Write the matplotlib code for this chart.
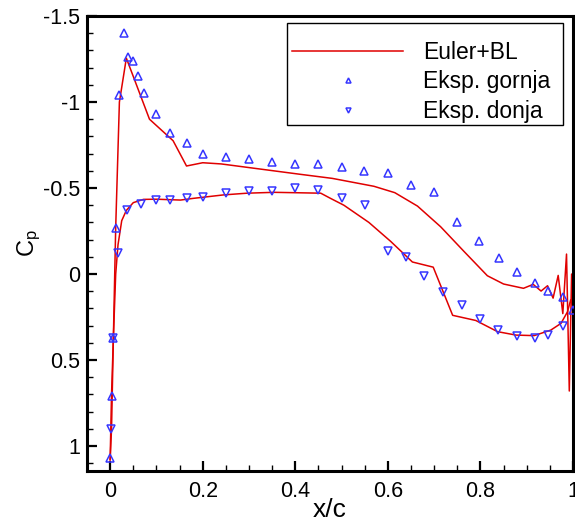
import matplotlib
matplotlib.use("Agg")
import matplotlib.pyplot as plt
from matplotlib.ticker import MultipleLocator, FuncFormatter
from matplotlib.patches import Rectangle

plt.rcParams['font.family'] = ['Liberation Sans', 'DejaVu Sans']
plt.rcParams['mathtext.fontset'] = 'custom'
plt.rcParams['mathtext.rm'] = 'Liberation Sans'
plt.rcParams['mathtext.it'] = 'Liberation Sans'
plt.rcParams['axes.unicode_minus'] = False

# Euler+BL computation, upper surface
upper_x = [0.0, 0.003, 0.007, 0.012, 0.02, 0.035, 0.085, 0.136, 0.165, 0.20, 0.24,
           0.41, 0.48, 0.57, 0.615, 0.664, 0.714, 0.765, 0.815, 0.85, 0.893, 0.914,
           0.931, 0.945, 0.957, 0.968, 0.978, 0.986, 0.992, 0.997, 1.0]
upper_cp = [1.08, 0.70, 0.37, -0.27, -1.0, -1.255, -0.90, -0.775, -0.628, -0.647, -0.64,
            -0.58, -0.556, -0.51, -0.473, -0.395, -0.275, -0.13, 0.01, 0.058, 0.083, 0.06,
            0.099, 0.068, 0.14, 0.008, 0.23, -0.116, 0.68, 0.0, 0.2]

# Euler+BL computation, lower surface
lower_x = [0.0, 0.003, 0.007, 0.012, 0.017, 0.025, 0.035, 0.05, 0.072, 0.1, 0.152,
           0.18, 0.245, 0.296, 0.354, 0.455, 0.476, 0.505, 0.559, 0.606, 0.653, 0.698,
           0.74, 0.79, 0.837, 0.877, 0.916, 0.952, 0.974, 0.988, 0.995, 1.0]
lower_cp = [1.08, 0.90, 0.37, 0.0, -0.17, -0.31, -0.37, -0.415, -0.434, -0.435, -0.43,
            -0.44, -0.46, -0.47, -0.475, -0.47, -0.44, -0.40, -0.30, -0.19, -0.07, -0.04,
            0.24, 0.27, 0.335, 0.355, 0.358, 0.326, 0.287, 0.22, 0.15, 0.2]

# Experiment, upper surface (gornja)
exp_up_x = [0.0, 0.003, 0.007, 0.012, 0.020, 0.030, 0.038, 0.050, 0.060, 0.074, 0.10,
            0.13, 0.165, 0.20, 0.25, 0.30, 0.35, 0.40, 0.449, 0.50, 0.548, 0.60, 0.65,
            0.70, 0.749, 0.797, 0.84, 0.88, 0.918, 0.947, 0.979, 0.999]
exp_up_cp = [1.07, 0.71, 0.37, -0.27, -1.04, -1.40, -1.26, -1.24, -1.15, -1.05, -0.93,
             -0.82, -0.76, -0.70, -0.68, -0.67, -0.65, -0.64, -0.64, -0.62, -0.60, -0.585,
             -0.52, -0.475, -0.30, -0.19, -0.095, -0.013, 0.054, 0.10, 0.135, 0.21]

# Experiment, lower surface (donja)
exp_lo_x = [0.001, 0.007, 0.017, 0.037, 0.066, 0.10, 0.13, 0.165, 0.20, 0.25, 0.30,
            0.35, 0.40, 0.449, 0.50, 0.55, 0.60, 0.64, 0.678, 0.72, 0.76, 0.80,
            0.838, 0.879, 0.918, 0.947, 0.979]
exp_lo_cp = [0.90, 0.37, -0.12, -0.37, -0.41, -0.43, -0.43, -0.44, -0.45, -0.47, -0.48,
             -0.485, -0.50, -0.49, -0.44, -0.40, -0.134, -0.10, 0.01, 0.107, 0.18, 0.26,
             0.326, 0.36, 0.37, 0.355, 0.30]

fig = plt.figure(figsize=(5.75, 5.22), dpi=100)
ax = fig.add_axes([87/575, 1-471/522, (573-87)/575, (471-16)/522])

red = '#e00000'
blue = '#3535ff'
ax.plot(upper_x, upper_cp, color=red, lw=1.1, label='Euler+BL', zorder=2)
ax.plot(lower_x, lower_cp, color=red, lw=1.1, zorder=2)
ax.plot(exp_up_x, exp_up_cp, ls='none', marker='^', ms=6, mfc='none', mec=blue,
        mew=1.1, label='Eksp. gornja', zorder=3)
ax.plot(exp_lo_x, exp_lo_cp, ls='none', marker='v', ms=6, mfc='none', mec=blue,
        mew=1.1, label='Eksp. donja', zorder=3)

ax.set_xlim(-0.05, 1.0)
ax.set_ylim(1.145, -1.5)

ax.xaxis.set_major_locator(MultipleLocator(0.2))
ax.xaxis.set_minor_locator(MultipleLocator(0.05))
ax.yaxis.set_major_locator(MultipleLocator(0.5))
ax.yaxis.set_minor_locator(MultipleLocator(0.1))
ax.xaxis.set_major_formatter(FuncFormatter(lambda v, p: '%g' % round(v, 3)))
ax.yaxis.set_major_formatter(FuncFormatter(lambda v, p: '%g' % round(v, 3)))

ax.tick_params(which='both', direction='in', top=False, right=False, labelsize=15.5)
ax.tick_params(which='major', length=7.5, width=1.6, pad=5)
ax.tick_params(which='minor', length=4.5, width=1.0)
ax.tick_params(axis='x', which='major', pad=7)
for s in ax.spines.values():
    s.set_linewidth(2.2)

ax.set_xlabel('x/c', fontsize=19, labelpad=-3)
ax.set_ylabel(r'C$_\mathregular{p}$', fontsize=17, labelpad=0)

# legend frame (Tecplot-style box)
frame = Rectangle((0.4115, 0.7604), 0.9794 - 0.4115, 0.9846 - 0.7604,
                  transform=ax.transAxes, fill=True, facecolor='white',
                  edgecolor='black', lw=1.0, zorder=4)
ax.add_patch(frame)
leg = ax.legend(loc='upper left', bbox_to_anchor=(0.4218, 0.945), borderaxespad=0,
                fontsize=16.5, frameon=False,
                handlelength=4.85, handletextpad=0.87, borderpad=0.0, labelspacing=0.28,
                markerscale=0.6)
leg.set_zorder(5)

fig.savefig('out.png', dpi=100)
